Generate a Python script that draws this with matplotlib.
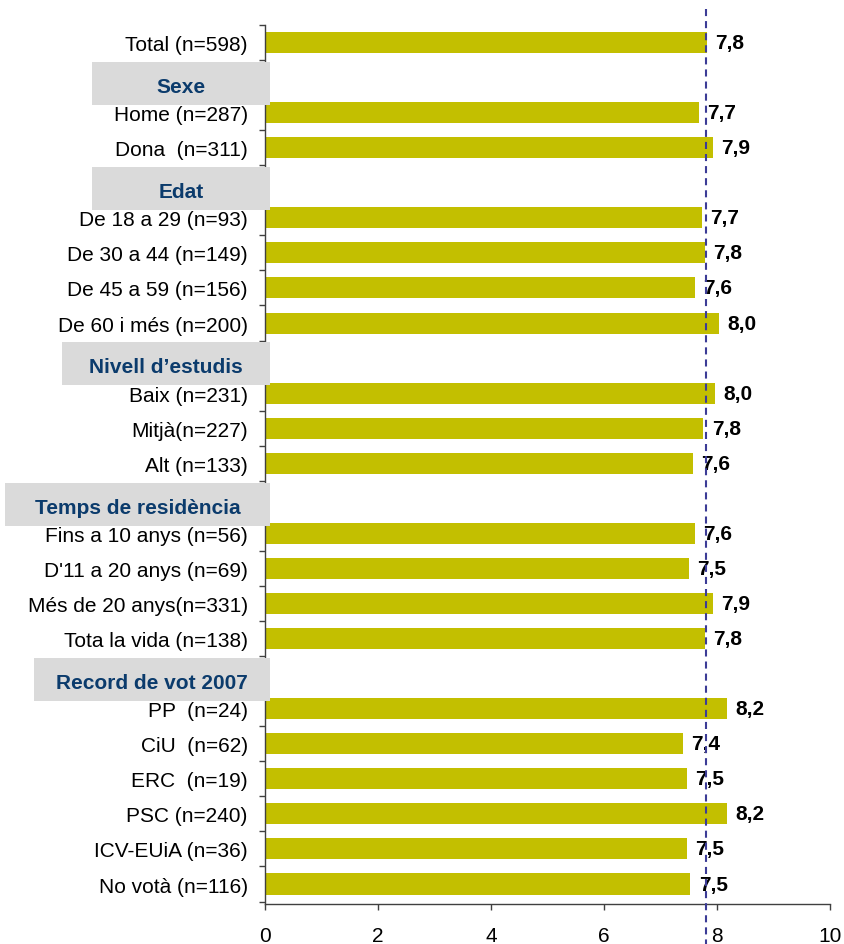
"""
Valoracio mitjana per grups: barres horitzontals amb capcaleres de grup.
"""

import matplotlib.pyplot as plt
from matplotlib.transforms import blended_transform_factory

plt.rcParams["font.family"] = ["Liberation Sans", "DejaVu Sans"]

# Dades llegides del grafic
TOTAL_ETIQ = "Total (n=598)"
TOTAL_VAL = 7.82

GRUPS = ["Sexe", "Edat", "Nivell d\u2019estudis", "Temps de resid\u00e8ncia",
         "Record de vot 2007"]

SEXE_ETIQ = ["Home (n=287)", "Dona  (n=311)"]
SEXE_VAL = [7.68, 7.93]

EDAT_ETIQ = ["De 18 a 29 (n=93)", "De 30 a 44 (n=149)", "De 45 a 59 (n=156)",
             "De 60 i m\u00e9s (n=200)"]
EDAT_VAL = [7.73, 7.79, 7.61, 8.04]

ESTUDIS_ETIQ = ["Baix (n=231)", "Mitj\u00e0(n=227)", "Alt (n=133)"]
ESTUDIS_VAL = [7.96, 7.76, 7.58]

RESID_ETIQ = ["Fins a 10 anys (n=56)", "D'11 a 20 anys (n=69)",
              "M\u00e9s de 20 anys(n=331)", "Tota la vida (n=138)"]
RESID_VAL = [7.61, 7.50, 7.93, 7.79]

VOT_ETIQ = ["PP  (n=24)", "CiU  (n=62)", "ERC  (n=19)", "PSC (n=240)",
            "ICV-EUiA (n=36)", "No vot\u00e0 (n=116)"]
VOT_VAL = [8.18, 7.40, 7.47, 8.18, 7.47, 7.53]

MITJANA = 7.8

# amplada (px) de les caixes grises de cada grup
AMPLE_CAIXA = [178, 178, 208, 265, 236]

COLOR_BARRA = "#C3BF00"
COLOR_CAIXA = "#DADADA"
COLOR_GRUP = "#0B3B6C"
COLOR_LINIA = "#3C3C96"
COLOR_EIX = "#404040"


def main():
    # construim les files: (etiqueta, valor, es_capcalera)
    files = [(TOTAL_ETIQ, TOTAL_VAL, False)]
    blocs = [(SEXE_ETIQ, SEXE_VAL), (EDAT_ETIQ, EDAT_VAL),
             (ESTUDIS_ETIQ, ESTUDIS_VAL), (RESID_ETIQ, RESID_VAL),
             (VOT_ETIQ, VOT_VAL)]
    for grup, (etiqs, vals) in zip(GRUPS, blocs):
        files.append((grup, None, True))
        for e, v in zip(etiqs, vals):
            files.append((e, v, False))
    n = len(files)

    fig = plt.figure(figsize=(8.45, 9.45), dpi=100)
    W, H = 845, 945
    ax = fig.add_axes([265 / W, 40 / H, 565 / W, 879 / H])

    ys = [i for i, f in enumerate(files) if not f[2]]
    vals = [f[1] for f in files if not f[2]]
    ax.barh(ys, vals, height=0.6, color=COLOR_BARRA, zorder=2)

    for y, v in zip(ys, vals):
        ax.annotate(f"{v:.1f}".replace(".", ","), (v, y), xytext=(6, 0),
                    textcoords="offset points", va="center", ha="left",
                    fontsize=15, fontweight="bold", color="black", zorder=7)

    ax.set_xlim(0, 10)
    ax.set_ylim(n - 1 + 0.57, -0.485)
    ax.set_xticks(range(0, 11, 2))

    # etiquetes de categoria al centre, marques a les fronteres
    ax.set_yticks(range(n))
    ax.set_yticklabels(["" if f[2] else f[0] for f in files])
    ax.set_yticks([i - 0.5 for i in range(n + 1)], minor=True)
    ax.tick_params(axis="y", which="major", length=0, pad=12.5, labelsize=15)
    ax.tick_params(axis="y", which="minor", length=4, width=1, color=COLOR_EIX)
    ax.tick_params(axis="x", length=4.5, width=1, color=COLOR_EIX, pad=11,
                   labelsize=15)

    for s in ["top", "right"]:
        ax.spines[s].set_visible(False)
    for s in ["left", "bottom"]:
        ax.spines[s].set_color(COLOR_EIX)
        ax.spines[s].set_linewidth(1)

    # linia de la mitjana
    trans = blended_transform_factory(ax.transData, ax.transAxes)
    ax.plot([MITJANA, MITJANA], [1.018, -0.046], transform=trans,
            color=COLOR_LINIA, lw=1.5, ls=(0, (3.4, 2.4)), clip_on=False,
            zorder=8)

    # caixes de capcalera
    trans_c = blended_transform_factory(ax.transAxes, ax.transData)
    dreta = 5 / 565
    idx_grups = [i for i, f in enumerate(files) if f[2]]
    for i, ample in zip(idx_grups, AMPLE_CAIXA):
        esq = dreta - ample / 565
        rect = plt.Rectangle((esq, i - 0.45), dreta - esq, 1.23,
                             transform=trans_c, facecolor=COLOR_CAIXA,
                             edgecolor="none", clip_on=False, zorder=5)
        ax.add_patch(rect)
        ax.text((esq + dreta) / 2, i + 0.41, files[i][0], transform=trans_c,
                ha="center", va="baseline", fontsize=15, fontweight="bold",
                color=COLOR_GRUP, zorder=6, clip_on=False)

    fig.savefig("out.png", dpi=100)


if __name__ == "__main__":
    main()
